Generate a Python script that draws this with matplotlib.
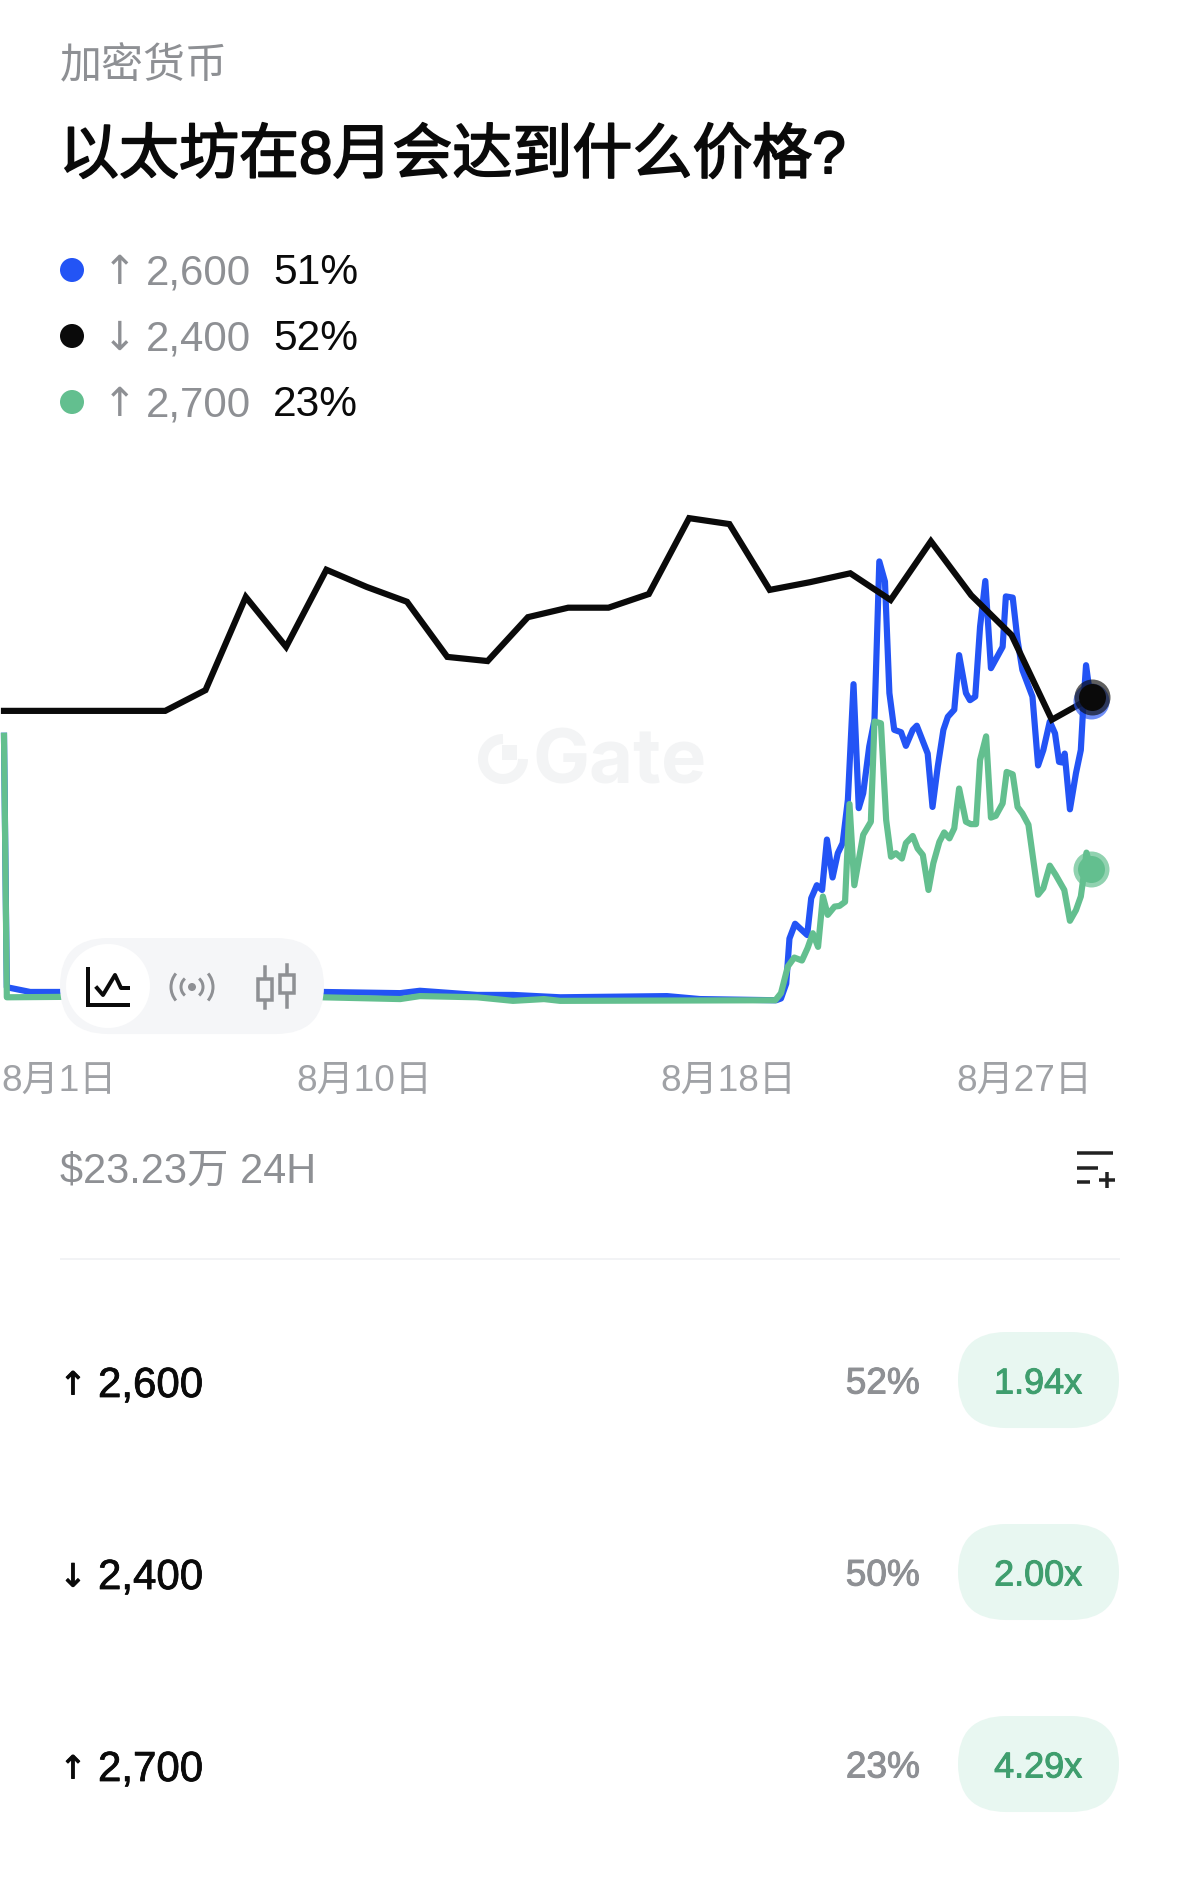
import matplotlib
matplotlib.use("Agg")
import matplotlib.pyplot as plt
import matplotlib.patheffects as pe
from matplotlib.patches import FancyBboxPatch, Circle, Rectangle, Arc, Ellipse

plt.rcParams['font.family'] = ['Liberation Sans', 'Noto Sans CJK SC', 'DejaVu Sans']

W, H = 1179, 1901
PX = 0.72  # px -> pt at dpi 100

# chart data: x in days of August, y in percent
black_days = list(range(1, 29))
black_vals = [49.6, 49.6, 49.6, 49.6, 49.6, 53.1, 68.8, 60.4, 73.4, 70.5, 68.0, 58.7, 58.0, 65.4,
              67.0, 67.0, 69.3, 82.1, 81.1, 70.0, 71.3, 72.8, 68.3, 78.2, 69.1, 62.4, 48.1, 51.9]

blue_days = [1, 1.07, 1.65, 2.39, 8.9, 10.83, 11.32, 12.74, 13.63, 14.8, 17.45, 18.27,
             20.16, 20.28, 20.41, 20.49, 20.63, 20.93, 21.03, 21.17, 21.30, 21.42, 21.56, 21.69,
             21.81, 21.94, 22.08, 22.21, 22.32, 22.47, 22.60, 22.72, 22.86, 22.97, 23.09, 23.26,
             23.38, 23.55, 23.65, 23.92, 24.04, 24.17, 24.31, 24.42, 24.58, 24.70, 24.87, 24.97,
             25.10, 25.22, 25.35, 25.49, 25.78, 25.86, 26.03, 26.15, 26.27, 26.52, 26.66, 26.79,
             26.95, 27.08, 27.18, 27.25, 27.32, 27.45, 27.60, 27.72, 27.78, 27.85, 27.97]
blue_vals = [45.4, 3.0, 2.2, 2.2, 2.2, 2.0, 2.4, 1.7, 1.7, 1.3, 1.5, 1.0,
             0.8, 1.1, 3.6, 11.2, 13.7, 11.8, 18.0, 20.2, 19.4, 27.9, 21.5, 25.6,
             27.3, 34.6, 54.1, 33.2, 35.7, 43.6, 48.1, 74.8, 71.4, 52.6, 46.4, 46.0,
             43.7, 46.4, 47.1, 42.4, 33.4, 40.2, 46.4, 48.6, 49.8, 59.0, 52.6, 51.4,
             52.0, 63.8, 71.5, 56.8, 60.4, 68.9, 68.7, 61.5, 56.5, 52.0, 40.4, 43.0,
             47.8, 45.8, 41.0, 40.9, 42.4, 33.0, 39.1, 43.0, 50.3, 57.3, 51.2]

green_days = [1, 1.07, 3.0, 8.9, 10.83, 11.32, 12.74, 13.63, 14.4, 14.8, 20.14,
              20.28, 20.45, 20.61, 20.80, 20.94, 21.07, 21.20, 21.32, 21.44, 21.61, 21.73, 21.87,
              21.98, 22.10, 22.32, 22.51, 22.60, 22.76, 22.89, 23.01, 23.13, 23.28, 23.38, 23.55,
              23.67, 23.80, 23.94, 24.06, 24.21, 24.33, 24.46, 24.58, 24.70, 24.87, 24.99, 25.12,
              25.22, 25.37, 25.49, 25.61, 25.78, 25.88, 26.03, 26.15, 26.27, 26.42, 26.66, 26.79,
              26.95, 27.10, 27.31, 27.45, 27.60, 27.72, 27.80, 27.86, 27.97]
green_vals = [45.4, 1.3, 1.4, 1.3, 1.0, 1.5, 1.3, 0.7, 1.0, 0.7, 0.8,
              2.0, 6.5, 8.0, 7.5, 9.6, 12.1, 9.8, 18.3, 15.2, 16.6, 16.7, 17.4,
              33.9, 20.2, 28.7, 30.9, 47.8, 47.5, 31.2, 25.0, 25.6, 24.7, 27.3, 28.5,
              26.4, 25.3, 19.4, 23.9, 27.5, 29.1, 28.1, 29.8, 36.5, 30.9, 30.5, 30.5,
              41.3, 45.3, 31.6, 31.9, 34.0, 39.3, 38.9, 33.4, 32.3, 30.4, 18.6, 19.7,
              23.5, 21.9, 19.4, 14.2, 16.0, 18.3, 22.2, 25.7, 23.0]

tick_days = [2.36, 9.95, 18.98, 26.33]
tick_labels = ['8月1日', '8月10日', '8月18日', '8月27日']

legend_arrows = ['↑', '↓', '↑']
legend_names = ['2,600', '2,400', '2,700']
legend_pcts = ['51%', '52%', '23%']
row_pcts = ['52%', '50%', '23%']
row_odds = ['1.94x', '2.00x', '4.29x']

BLUE = '#2354f5'
BLACK = '#0a0a0a'
GREEN = '#63bf8f'
GRAY = '#8e9094'
WMARK = '#f3f4f5'

fig = plt.figure(figsize=(W / 100, H / 100), dpi=100, facecolor='white')


def px_axes(z):
    a = fig.add_axes([0, 0, 1, 1], zorder=z)
    a.set_xlim(0, W)
    a.set_ylim(H, 0)
    a.axis('off')
    a.patch.set_alpha(0)
    return a


def medium(px):
    return [pe.withStroke(linewidth=px * PX, foreground='#0a0a0a')]


# watermark under the lines
back = px_axes(0)
back.add_patch(Arc((503, 759), 40, 40, theta1=0, theta2=270, lw=10 * PX, color=WMARK))
back.add_patch(Rectangle((502, 745), 15, 15, color=WMARK, lw=0))
back.text(533, 764, 'Gate', fontsize=76 * PX, fontweight='bold', color=WMARK, va='center', ha='left',
          family=['Inter', 'Liberation Sans'])

# chart
top, bottom = 480, 1040
ax = fig.add_axes([0, 1 - bottom / H, 1, (bottom - top) / H], zorder=1)
ax.patch.set_alpha(0)
ax.set_xlim(1 - 4 / 40.3, 1 + (W - 4) / 40.3)
ax.set_ylim((1005 - bottom) / 5.93, (1005 - top) / 5.93)
for s in ax.spines.values():
    s.set_visible(False)
ax.set_yticks([])
ax.set_xticks(tick_days)
ax.set_xticklabels(tick_labels, fontsize=37 * PX, color='#a0a2a6')
ax.tick_params(axis='x', length=0, pad=17.5)

lw = 6.2 * PX
ax.plot(blue_days, blue_vals, color=BLUE, lw=lw, solid_joinstyle='round')
ax.plot(green_days, green_vals, color=GREEN, lw=lw, solid_joinstyle='round')
ax.plot(black_days, black_vals, color=BLACK, lw=lw, solid_joinstyle='miter')
ax.plot(blue_days[-1], blue_vals[-1], 'o', ms=36 * PX, color=BLUE, alpha=0.65, mew=0)
ax.plot(green_days[-1], green_vals[-1], 'o', ms=36 * PX, color=GREEN, alpha=0.7, mew=0)
ax.plot(green_days[-1], green_vals[-1], 'o', ms=27 * PX, color=GREEN, mew=0)
ax.plot(black_days[-1], black_vals[-1], 'o', ms=36 * PX, color=BLACK, alpha=0.65, mew=0)
ax.plot(black_days[-1], black_vals[-1], 'o', ms=27 * PX, color=BLACK, mew=0)

# everything else, in pixels
ui = px_axes(2)

ui.text(60, 67, '加密货币', fontsize=42 * PX, color=GRAY, va='center', ha='left')
ui.text(59, 157, '以太坊在8月会达到什么价格?', fontsize=60 * PX, color='#0a0a0a',
        va='center', ha='left', path_effects=medium(1.8))

legend_y = [270, 336, 402]
legend_cols = [BLUE, BLACK, GREEN]
for i in range(3):
    y = legend_y[i]
    ui.add_patch(Ellipse((72, y), 24, 24, color=legend_cols[i], lw=0))
    ui.text(120, y + 3, legend_arrows[i], fontsize=40 * PX, color=GRAY, va='center', ha='center',
            family='DejaVu Sans')
    ui.text(146, y + 3, legend_names[i], fontsize=42 * PX, color=GRAY, va='center', ha='left')
    ui.text(273, y + 3, legend_pcts[i], fontsize=42.5 * PX, color='#0a0a0a', va='center', ha='left')

# chart type switcher
ui.add_patch(FancyBboxPatch((60 + 48, 938 + 48), 264 - 96, 0.01, boxstyle='round,pad=48', fc='#f5f6f8', ec='none'))
ui.add_patch(Circle((108, 986), 42, fc='white', ec='none'))
ui.plot([88, 88, 128], [969, 1005, 1005], color='#0a0a0a', lw=4 * PX, solid_joinstyle='miter')
ui.plot([97, 103, 115, 121, 128], [988, 995, 975, 988, 988], color='#0a0a0a', lw=4 * PX)
ui.add_patch(Circle((192, 987), 4, fc=GRAY, ec='none'))
for r, th in [(11, 50), (21, 40)]:
    ui.add_patch(Arc((192, 987), 2 * r, 2 * r, theta1=-th, theta2=th, color=GRAY, lw=3 * PX))
    ui.add_patch(Arc((192, 987), 2 * r, 2 * r, theta1=180 - th, theta2=180 + th, color=GRAY, lw=3 * PX))
ui.plot([265, 265], [967, 1008], color=GRAY, lw=3.5 * PX)
ui.add_patch(Rectangle((258, 979), 14, 21, fc='#f5f6f8', ec=GRAY, lw=3.5 * PX, zorder=3))
ui.plot([287, 287], [965, 1007], color=GRAY, lw=3.5 * PX)
ui.add_patch(Rectangle((280, 975), 14, 18, fc='#f5f6f8', ec=GRAY, lw=3.5 * PX, zorder=3))

# volume line
ui.text(60, 1172, '$23.23万 24H', fontsize=41.5 * PX, color=GRAY, va='center', ha='left')
ui.plot([1077, 1113], [1153, 1153], color='#222222', lw=3.5 * PX, solid_capstyle='butt')
ui.plot([1077, 1098], [1168, 1168], color='#222222', lw=3.5 * PX, solid_capstyle='butt')
ui.plot([1077, 1090], [1182, 1182], color='#222222', lw=3.5 * PX, solid_capstyle='butt')
ui.plot([1099, 1115], [1180, 1180], color='#222222', lw=3.5 * PX, solid_capstyle='butt')
ui.plot([1107, 1107], [1172, 1188], color='#222222', lw=3.5 * PX, solid_capstyle='butt')
ui.plot([61, 1119], [1259, 1259], color='#f2f3f5', lw=2 * PX)

# outcome rows
row_y = [1382, 1574, 1766]
for i in range(3):
    y = row_y[i]
    ui.text(73, y + 4, legend_arrows[i], fontsize=32 * PX, color='#0a0a0a', va='center', ha='center',
            family='DejaVu Sans', path_effects=medium(1))
    ui.text(98, y + 4, legend_names[i], fontsize=42 * PX, color='#0a0a0a', va='center', ha='left',
            path_effects=medium(0.8))
    ui.text(920, y + 2, row_pcts[i], fontsize=37 * PX, color=GRAY, va='center', ha='right',
            path_effects=[pe.withStroke(linewidth=1.0 * PX, foreground=GRAY)])
    ui.add_patch(FancyBboxPatch((958 + 48, y - 2), 161 - 96, 0.01, boxstyle='round,pad=48',
                                fc='#e8f7f1', ec='none'))
    ui.text(1038, y + 2, row_odds[i], fontsize=36 * PX, color='#3f9e6e', va='center', ha='center',
            path_effects=[pe.withStroke(linewidth=1.0 * PX, foreground='#3f9e6e')])

fig.savefig('out.png', dpi=100)
